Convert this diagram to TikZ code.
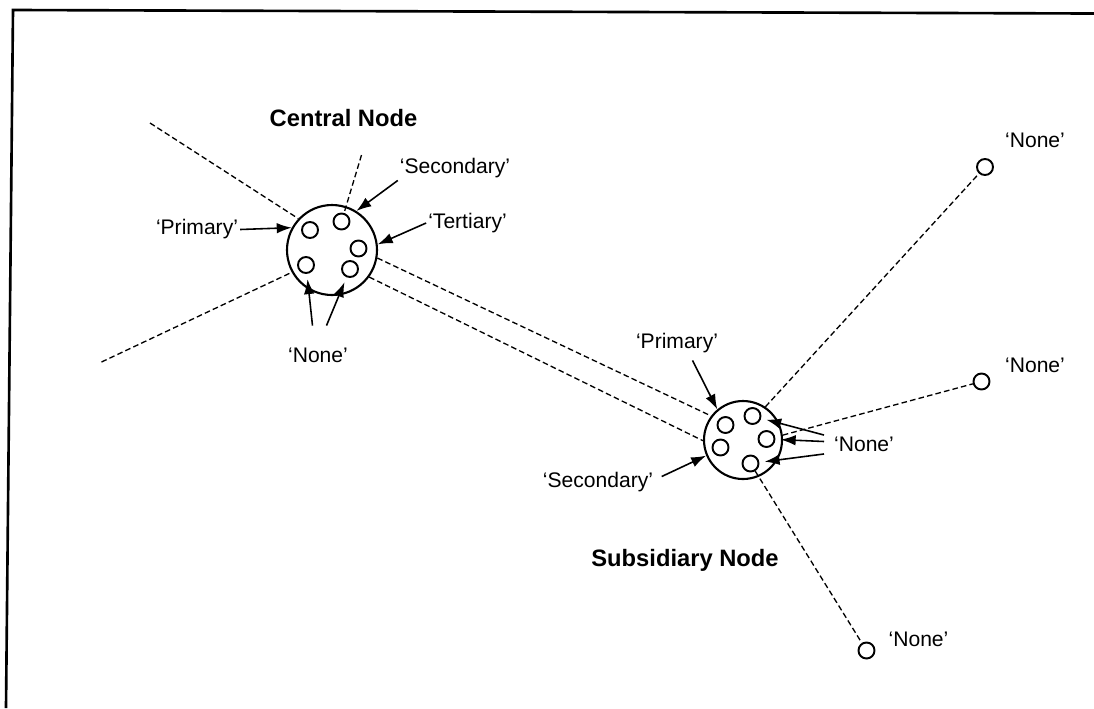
\documentclass[tikz,border=0pt]{standalone}
\usepackage{fontspec}
\setmainfont{Liberation Sans}
\usetikzlibrary{arrows.meta,shapes}

\begin{document}
\begin{tikzpicture}[
  hub/.style={draw,circle,line width=1.2pt,minimum size=#1,inner sep=0pt},
  port/.style={draw,circle,line width=1.1pt,minimum size=0.32cm,inner sep=0pt},
  lbl/.style={inner sep=1pt,font=\fontsize{12}{14}\selectfont},
  ttl/.style={inner sep=1pt,font=\fontsize{13.5}{16}\selectfont\bfseries},
  ptr/.style={-{Latex[length=8.5pt,width=6pt]},line width=0.9pt},
  link/.style={dash pattern=on 3.2pt off 1.8pt,line width=0.75pt}
]

\newcommand{\myport}[2]{% nom, position
\node[port] (#1) at (#2) {};
}

\useasboundingbox (0,0) rectangle (21.88,-14.16);

%frame
\draw[line width=1.5pt] (21.88,-0.27) -- (0.26,-0.20) -- (0.12,-14.16);

%central node
\node[hub=1.8cm] (cn) at (6.64,-5.00) {};
\myport{cp}{6.20,-4.60}
\myport{cs}{6.83,-4.43}
\myport{ct}{7.17,-4.97}
\myport{cna}{6.12,-5.30}
\myport{cnb}{7.00,-5.38}
\node[ttl] (cntitle) at (6.87,-2.36) {Central Node};
\node[lbl] (cnprim) at (3.94,-4.59) {‘Primary’};
\node[lbl] (cnsec) at (9.10,-3.37) {‘Secondary’};
\node[lbl] (cnter) at (9.35,-4.46) {‘Tertiary’};
\node[lbl] (cnnone) at (6.36,-7.11) {‘None’};

%subsidiary node
\node[hub=1.56cm] (sn) at (14.86,-8.80) {};
\myport{sp}{14.51,-8.50}
\myport{sa}{15.05,-8.32}
\myport{sb}{15.33,-8.78}
\myport{ss}{14.41,-8.95}
\myport{sc}{15.01,-9.27}
\node[ttl] (sntitle) at (13.70,-11.21) {Subsidiary Node};
\node[lbl] (snprim) at (13.54,-6.86) {‘Primary’};
\node[lbl] (snsec) at (11.96,-9.65) {‘Secondary’};
\node[lbl] (snnone) at (17.28,-8.89) {‘None’};

%outer ports
\myport{oa}{19.70,-3.34}
\myport{ob}{19.63,-7.63}
\myport{oc}{17.33,-13.01}
\node[lbl] (oanone) at (20.70,-2.80) {‘None’};
\node[lbl] (obnone) at (20.70,-7.31) {‘None’};
\node[lbl] (ocnone) at (18.37,-12.79) {‘None’};

%free ends
\coordinate (cnfarnw) at (3.00,-2.46);
\coordinate (cnfarn) at (7.23,-3.10);
\coordinate (cnfarsw) at (2.03,-7.24);

%links
\draw[link] (cnfarnw) -- (cn.137);
\draw[link] (cnfarn) -- (cs);
\draw[link] (cnfarsw) -- (cn.209);
\draw[link] (cn.-10) -- (sn.143);
\draw[link] (cn.-36) -- (sn.181);
\draw[link] (sn.56) -- (oa);
\draw[link] (sn.7) -- (ob);
\draw[link] (sc) -- (oc);

%central arrows
\draw[ptr] (cnprim.east) -- (cn.151);
\draw[ptr] (cnsec.south west) -- (cn.58);
\draw[ptr] (cnter.west) -- (cn.7);
\draw[ptr,shorten >=3pt] ([shift={(-0.11,0.41)}]cnnone.north) -- (cna);
\draw[ptr,shorten >=3pt] ([shift={(0.17,0.41)}]cnnone.north) -- (cnb);

%subsidiary arrows
\draw[ptr] ([shift={(0.31,-0.11)}]snprim.south) -- (sn.130);
\draw[ptr] ([shift={(0.13,0.12)}]snsec.east) -- (sn.203);
\draw[ptr,shorten >=3pt] ([xshift=-0.16cm]snnone.north west) -- (sa);
\draw[ptr,shorten >=3pt] ([shift={(-0.16,0.06)}]snnone.west) -- (sb);
\draw[ptr,shorten >=3pt] ([xshift=-0.16cm]snnone.south west) -- (sc);

\end{tikzpicture}
\end{document}
